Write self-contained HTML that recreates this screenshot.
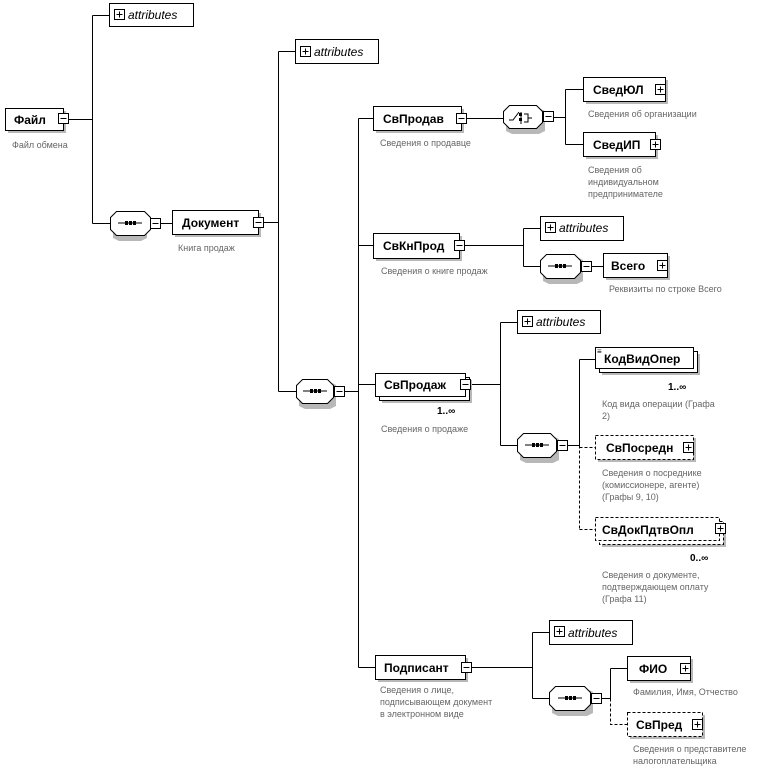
<!DOCTYPE html>
<html><head><meta charset="utf-8"><style>
body{margin:0;background:#fff}
svg text{font-family:"Liberation Sans",sans-serif}
.b{font-weight:bold;font-size:12px}
.d{font-size:9px;fill:#666}
.a{font-style:italic;font-size:12px}
.m{font-size:10px;font-weight:bold}
</style></head><body>
<svg width="774" height="773" xmlns="http://www.w3.org/2000/svg" stroke-width="1">
<defs>
<g id="mn"><rect x="0.5" y="0.5" width="10" height="10" fill="#fff" stroke="#000"/><line x1="2.5" y1="5.5" x2="8.5" y2="5.5" stroke="#000"/></g>
<g id="pl"><rect x="0.5" y="0.5" width="10" height="10" fill="#fff" stroke="#000"/><line x1="2.5" y1="5.5" x2="8.5" y2="5.5" stroke="#000"/><line x1="5.5" y1="2.5" x2="5.5" y2="8.5" stroke="#000"/></g>
<g id="sq"><line x1="8" y1="12" x2="32" y2="12" stroke="#000"/><rect x="15" y="10" width="3" height="4"/><rect x="19" y="10" width="3" height="4"/><rect x="23" y="10" width="3" height="4"/></g>
</defs>
<g stroke="#000" fill="none">
<path d="M68.5 119.5H92.5M92.5 15.5V223.5M92.5 15.5H109M92.5 223.5H110"/>
<path d="M160 223.5H172M263 222.5H278.5M278.5 51.5V391.5M278.5 51.5H295M278.5 391.5H296"/>
<path d="M344 391.5H358.5M358.5 118.5V667.5M358.5 118.5H373M358.5 245.5H373M358.5 384.5H375M358.5 667.5H375"/>
<path d="M466 118.5H503M553 117.5H565.5M565.5 89.5V144.5M565.5 89.5H583M565.5 144.5H583"/>
<path d="M464 245.5H523.5M523.5 228.5V266.5M523.5 228.5H540M523.5 266.5H540M591 266.5H603"/>
<path d="M470 384.5H500.5M500.5 322.5V445.5M500.5 322.5H517M500.5 445.5H517M567 445.5H579.5M579.5 359.5V445.5M579.5 359.5H595"/>
<path d="M579.5 445.5V529.5M579.5 447.5H595M579.5 529.5H595" stroke-dasharray="3,2"/>
<path d="M471 667.5H532.5M532.5 632.5V698.5M532.5 632.5H549M532.5 698.5H549M601 698.5H610.5M610.5 668.5V698.5M610.5 668.5H627"/>
<path d="M610.5 698.5V724.5H627" stroke-dasharray="3,2"/>
</g>
<g fill="#b8b8b8">
<rect x="8" y="111" width="58" height="22"/><rect x="175" y="213" width="86" height="24"/>
<rect x="376" y="109" width="88" height="24"/><rect x="586" y="80" width="82" height="24"/>
<rect x="586" y="135" width="72" height="24"/><rect x="376" y="236" width="86" height="25"/>
<rect x="606" y="256" width="64" height="24"/><rect x="382" y="380" width="90" height="23"/>
<rect x="602" y="354" width="98" height="21"/><rect x="598" y="438" width="98" height="24"/>
<rect x="602" y="524" width="124" height="23"/><rect x="378" y="658" width="90" height="24"/>
<rect x="630" y="659" width="63" height="24"/><rect x="630" y="715" width="75" height="24"/>
<path d="M113 217L119 214H141L147 217V238L141 241H119L113 238Z"/>
<path d="M299 385L305 382H330L336 385V406L330 409H305L299 406Z"/>
<path d="M506 111L512 108H539L545 111V131L539 134H512L506 131Z"/>
<path d="M543 260L549 257H577L583 260V281L577 284H549L543 281Z"/>
<path d="M520 439L526 436H553L559 439V460L553 463H526L520 460Z"/>
<path d="M552 692L558 689H587L593 692V713L587 716H558L552 713Z"/>
</g>
<g fill="#fff" stroke="#000">
<rect x="109.5" y="3.5" width="84" height="23"/><rect x="295.5" y="39.5" width="83" height="24"/>
<rect x="540.5" y="216.5" width="83" height="24"/><rect x="517.5" y="310.5" width="83" height="23"/>
<rect x="549.5" y="620.5" width="83" height="24"/>
<rect x="5.5" y="108.5" width="58" height="22"/><rect x="172.5" y="210.5" width="86" height="24"/>
<rect x="373.5" y="106.5" width="88" height="24"/><rect x="583.5" y="77.5" width="82" height="24"/>
<rect x="583.5" y="132.5" width="72" height="24"/><rect x="373.5" y="233.5" width="86" height="25"/>
<rect x="603.5" y="253.5" width="64" height="24"/>
<rect x="379.5" y="377.5" width="90" height="23"/><rect x="375.5" y="373.5" width="90" height="23"/>
<rect x="599.5" y="351.5" width="98" height="21"/><rect x="595.5" y="347.5" width="98" height="21"/>
<rect x="375.5" y="655.5" width="90" height="24"/><rect x="627.5" y="656.5" width="63" height="24"/>
<g stroke-dasharray="3,2"><rect x="595.5" y="435.5" width="98" height="24"/>
<rect x="599.5" y="521.5" width="124" height="23"/><rect x="595.5" y="517.5" width="124" height="23"/>
<rect x="627.5" y="712.5" width="75" height="24"/></g>
<path d="M110.5 217.5L116.5 211.5H144.5L150.5 217.5V229.5L144.5 235.5H116.5L110.5 229.5Z"/>
<path d="M296.5 385.5L302.5 379.5H327.5L333.5 385.5V397.5L327.5 403.5H302.5L296.5 397.5Z"/>
<path d="M503.5 111.5L509.5 105.5H536.5L542.5 111.5V122.5L536.5 128.5H509.5L503.5 122.5Z"/>
<path d="M540.5 260.5L546.5 254.5H574.5L580.5 260.5V272.5L574.5 278.5H546.5L540.5 272.5Z"/>
<path d="M517.5 439.5L523.5 433.5H550.5L556.5 439.5V451.5L550.5 457.5H523.5L517.5 451.5Z"/>
<path d="M549.5 692.5L555.5 686.5H584.5L590.5 692.5V704.5L584.5 710.5H555.5L549.5 704.5Z"/>
</g>
<use href="#sq" x="110" y="211"/><use href="#sq" x="295" y="379"/><use href="#sq" x="540" y="254"/>
<use href="#sq" x="517" y="433"/><use href="#sq" x="550" y="686"/>
<g stroke="#000" fill="none"><path d="M509 120H513L519 112M521 112V124M524 114H528V122H524M528 118H532"/></g>
<rect x="519" y="113" width="3" height="3"/><rect x="519" y="118" width="3" height="3"/>
<use href="#mn" x="58" y="113"/><use href="#mn" x="150" y="218"/><use href="#mn" x="253" y="217"/>
<use href="#mn" x="334" y="386"/><use href="#mn" x="456" y="113"/><use href="#mn" x="543" y="111"/>
<use href="#mn" x="454" y="240"/><use href="#mn" x="581" y="261"/><use href="#mn" x="460" y="379"/>
<use href="#mn" x="557" y="440"/><use href="#mn" x="461" y="662"/><use href="#mn" x="591" y="693"/>
<use href="#pl" x="114" y="9"/><use href="#pl" x="300" y="46"/><use href="#pl" x="545" y="222"/>
<use href="#pl" x="522" y="316"/><use href="#pl" x="554" y="626"/>
<use href="#pl" x="655" y="84"/><use href="#pl" x="650" y="139"/><use href="#pl" x="657" y="260"/>
<use href="#pl" x="683" y="442"/><use href="#pl" x="715" y="523"/><use href="#pl" x="680" y="663"/><use href="#pl" x="692" y="719"/>
<g class="a"><text x="128" y="19">attributes</text><text x="314" y="56">attributes</text><text x="559" y="232">attributes</text>
<text x="536" y="326">attributes</text><text x="568" y="637">attributes</text></g>
<g class="b"><text x="14" y="124">Файл</text><text x="182" y="227">Документ</text><text x="383" y="123">СвПродав</text>
<text x="593" y="94">СведЮЛ</text><text x="593" y="149">СведИП</text><text x="383" y="250">СвКнПрод</text>
<text x="611" y="270">Всего</text><text x="384" y="389">СвПродаж</text><text x="604" y="363">КодВидОпер</text>
<text x="606" y="452">СвПосредн</text><text x="602" y="534">СвДокПдтвОпл</text><text x="384" y="672">Подписант</text>
<text x="639" y="673">ФИО</text><text x="636" y="729">СвПред</text></g>
<text x="597" y="354" font-size="8">≡</text>
<g class="m"><text x="437" y="414">1..∞</text><text x="668" y="390">1..∞</text><text x="690" y="561">0..∞</text></g>
<g class="d">
<text x="12" y="148">Файл обмена</text><text x="178" y="251">Книга продаж</text>
<text x="380" y="146">Сведения о продавце</text><text x="588" y="117">Сведения об организации</text>
<text x="588" y="173">Сведения об</text><text x="588" y="185">индивидуальном</text><text x="588" y="197">предпринимателе</text>
<text x="381" y="274">Сведения о книге продаж</text><text x="609" y="292">Реквизиты по строке Всего</text>
<text x="381" y="432">Сведения о продаже</text>
<text x="602" y="407">Код вида операции (Графа</text><text x="602" y="419">2)</text>
<text x="602" y="476">Сведения о посреднике</text><text x="602" y="488">(комиссионере, агенте)</text><text x="602" y="500">(Графы 9, 10)</text>
<text x="602" y="578">Сведения о документе,</text><text x="602" y="590">подтверждающем оплату</text><text x="602" y="602">(Графа 11)</text>
<text x="380" y="693">Сведения о лице,</text><text x="380" y="705">подписывающем документ</text><text x="380" y="717">в электронном виде</text>
<text x="633" y="695">Фамилия, Имя, Отчество</text>
<text x="633" y="752">Сведения о представителе</text><text x="633" y="764">налогоплательщика</text>
</g>
</svg>
</body></html>
